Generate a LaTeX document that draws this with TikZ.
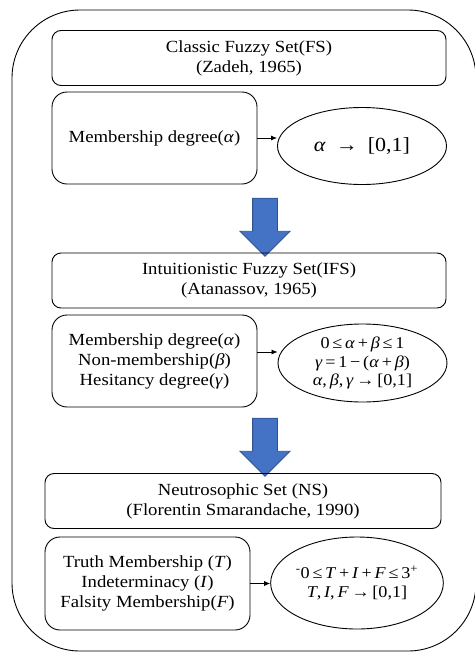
\documentclass[tikz,border=0pt]{standalone}
\usepackage{fontspec}
\setmainfont[FakeStretch=1.1]{Liberation Serif}
\usetikzlibrary{arrows.meta,shapes.geometric,shapes.arrows,positioning}
\definecolor{Bluet}{RGB}{68,114,196}
\definecolor{BluetEdge}{RGB}{47,82,143}

\begin{document}
\begin{tikzpicture}[x=1pt,y=-1pt,
  every node/.style={font=\fontsize{17}{20}\selectfont},
  titlebox/.style={draw, line width=0.9pt, rounded corners=9pt, minimum width=394pt, minimum height=55pt, align=center, inner sep=0pt},
  membox/.style={draw, line width=0.9pt, rounded corners=15pt, minimum width=205pt, minimum height=92pt, align=center, inner sep=0pt},
  rangebox/.style={draw, line width=0.9pt, ellipse, minimum width=169pt, minimum height=78pt, align=center, inner sep=0pt},
  downarrow/.style={single arrow, shape border rotate=270, fill=Bluet, draw=BluetEdge, line width=0.8pt, inner sep=12pt, single arrow head extend=12.5pt, minimum height=58pt},
  link/.style={-{Latex[length=6pt,width=5pt]}, line width=0.8pt}]
\useasboundingbox (0,0) rectangle (474,656);
\draw[line width=0.9pt, rounded corners=68pt] (12,10) rectangle (476,651);
%
% classic fuzzy set
\node[titlebox] (fs) at (249,58) {Classic Fuzzy Set(FS)\\(Zadeh, 1965)};
\node[membox] (fsm) at (154.5,138) {Membership degree(\textit{α})};
\node[rangebox, minimum height=77pt, font=\fontsize{20}{24}\selectfont] (fse) at (362,146) {\textit{α}\enspace→\enspace[0,1]};
\draw[link] (fsm.east) -- (fsm.east -| fse.west);
\node[downarrow] (down1) at (265,221) {};
%
% intuitionistic fuzzy set
\node[titlebox] (ifs) at (249,280.5) {Intuitionistic Fuzzy Set(IFS)\\(Atanassov, 1965)};
\node[membox] (ifsm) at (154.5,361) {Membership degree(\textit{α})\\Non-membership(\textit{β})\\Hesitancy degree(\textit{γ})};
\node[rangebox, font=\fontsize{16.5}{18.5}\selectfont] (ifse) at (362.5,363) {0\,≤\,\textit{α}\,+\,\textit{β}\,≤\,1\\\textit{γ}\,=\,1\,−\,(\textit{α}\,+\,\textit{β})\\\textit{α},\,\textit{β},\,\textit{γ}\,→\,[0,1]};
\draw[link] ([yshift=9pt]ifsm.east) -- ([yshift=9pt]ifsm.east -| ifse.west);
\node[downarrow] (down2) at (265,441) {};
%
% neutrosophic set
\node[titlebox, minimum width=396pt] (ns) at (243,501) {Neutrosophic Set (NS)\\(Florentin Smarandache, 1990)};
\node[membox, minimum height=93pt] (nsm) at (147.5,583.5) {Truth Membership (\textit{T})\\Indeterminacy (\textit{I})\\Falsity Membership(\textit{F})};
\node[rangebox, minimum width=170pt, minimum height=92pt, font=\fontsize{16.5}{19}\selectfont] (nse) at (357,583) {\textsuperscript{-}0\,≤\,\textit{T}\,+\,\textit{I}\,+\,\textit{F}\,≤\,3\textsuperscript{+}\\\textit{T},\,\textit{I},\,\textit{F}\,→\,[0,1]};
\draw[link] (nsm.east) -- (nsm.east -| nse.west);
\end{tikzpicture}
\end{document}
